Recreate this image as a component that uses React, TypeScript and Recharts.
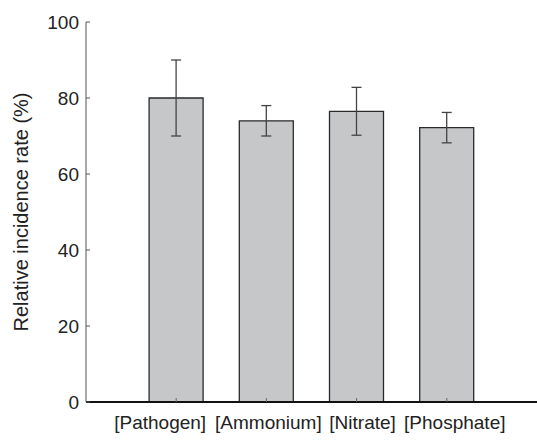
import { BarChart, Bar, XAxis, YAxis, ErrorBar } from 'recharts'

const categories = ['[Pathogen]', '[Ammonium]', '[Nitrate]', '[Phosphate]']
const positions = [1, 2, 3, 4]
const rates = [80, 74, 76.5, 72.2]
const errors = [10, 4, 6.3, 4]
const yTicks = [0, 20, 40, 60, 80, 100]

const data = positions.map((p, i) => ({ pos: p, name: categories[i], rate: rates[i], err: errors[i] }))

const font = 'Liberation Sans, Arial, Helvetica, sans-serif'

// the category labels in the original are set like a line of text, not centred under the bars
const labelNudge = [-16, 2, 6, 8]

const CategoryTick = ({ x, y, payload, index }: any) => (
  <text x={x + (labelNudge[index] ?? 0)} y={y} dy="0.71em" textAnchor="middle" fontSize={19} fill="#222" fontFamily={font}>
    {categories[payload.value - 1]}
  </text>
)

export default function App() {
  return (
    <div style={{ position: 'absolute', left: 0, top: 0, width: 537, height: 440, background: '#fff' }}>
      <BarChart width={537} height={440} data={data} margin={{ top: 22, right: 0, bottom: 0, left: 0 }}>
        <XAxis
          type="number"
          dataKey="pos"
          domain={[0, 5]}
          ticks={positions}
          height={38}
          tickSize={-4}
          tickMargin={18}
          axisLine={{ stroke: '#111', strokeWidth: 2 }}
          tickLine={{ stroke: '#666' }}
          tick={<CategoryTick />}
          interval={0}
        />
        <YAxis
          domain={[0, 100]}
          ticks={yTicks}
          width={86}
          tickSize={-4}
          tickMargin={11}
          axisLine={{ stroke: '#555' }}
          tickLine={{ stroke: '#555' }}
          tick={{ fontSize: 19, fill: '#222', fontFamily: font }}
          label={{ value: 'Relative incidence rate (%)', angle: -90, position: 'center', dx: -22, fontSize: 20, fill: '#222', fontFamily: font }}
        />
        <Bar dataKey="rate" barSize={54} fill="#c6c7c9" stroke="#2a2a2a" strokeWidth={1.3} isAnimationActive={false}>
          <ErrorBar dataKey="err" width={5} stroke="#444" strokeWidth={1.3} direction="y" />
        </Bar>
      </BarChart>
    </div>
  )
}
